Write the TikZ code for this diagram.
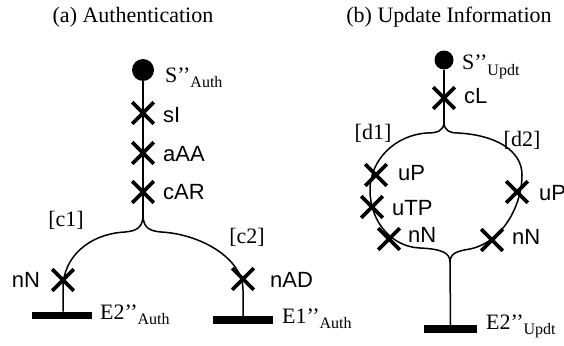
\documentclass[tikz,border=0pt]{standalone}
\usepackage{fontspec}
\setmainfont{Liberation Serif}
\setsansfont{Liberation Sans}
\usetikzlibrary{shapes.misc}
\newcommand{\subtxt}[1]{\raisebox{-5.5pt}{\fontsize{16}{16}\selectfont #1}}
\begin{document}
\begin{tikzpicture}[x=1pt,y=-1pt,
  flow/.style={line width=1.5pt},
  xmark/.style={draw, cross out, line width=3.6pt, minimum size=18pt, inner sep=0pt},
  startdot/.style={circle, fill=black, inner sep=0pt},
  endbar/.style={fill=black, inner sep=0pt, minimum height=7.5pt},
  act/.style={font=\sffamily\fontsize{22}{24}\selectfont, inner sep=0pt},
  lbl/.style={font=\rmfamily\fontsize{22}{24}\selectfont, inner sep=0pt},
  ttl/.style={font=\rmfamily\fontsize{22}{24}\selectfont, inner sep=0pt}]
\useasboundingbox (0,0) rectangle (564,345);

% ---------------- (a) Authentication ----------------
\node[ttl] (ta) at (133,17) {(a) Authentication};
\node[startdot, minimum size=22pt] (sa) at (143,70) {};
\coordinate (ja) at (143,215);
\node[endbar, minimum width=60pt] (e2a) at (62,315.5) {};
\node[endbar, minimum width=60pt] (e1a) at (243,320) {};
\draw[flow] (sa) -- (ja);
\draw[flow] (ja) .. controls (143,228) and (136,231) .. (125,232)
  .. controls (88,234) and (63,258) .. (63,288) -- (e2a.north -| 63,0);
\draw[flow] (ja) .. controls (143,228) and (150,231) .. (161,232)
  .. controls (200,234) and (243,258) .. (243,290) -- (e1a.north);
\node[xmark] (xsi) at (143,113) {};
\node[xmark] (xaaa) at (143,153) {};
\node[xmark] (xcar) at (143,192) {};
\node[xmark] (xnna) at (63,280) {};
\node[xmark] (xnad) at (243,279) {};
\node[lbl, anchor=base west] (lsa) at (165,82) {S’’\subtxt{Auth}};
\node[act, anchor=west] (lsi) at (163,115) {sI};
\node[act, anchor=west] (laaa) at (163,154) {aAA};
\node[act, anchor=west] (lcar) at (163,192) {cAR};
\node[lbl] (lc1) at (66,220) {[c1]};
\node[lbl] (lc2) at (247,237) {[c2]};
\node[act] (lnna) at (26,280) {nN};
\node[act, anchor=west] (lnad) at (270,280) {nAD};
\node[lbl, anchor=base west] (le2a) at (100,319) {E2’’\subtxt{Auth}};
\node[lbl, anchor=base west] (le1a) at (282,323) {E1’’\subtxt{Auth}};

% ---------------- (b) Update Information ----------------
\node[ttl] (tb) at (449,17) {(b) Update Information};
\node[startdot, minimum size=19pt] (su) at (444,60) {};
\coordinate (jt) at (444,122);
\coordinate (jb) at (450,262);
\node[endbar, minimum width=53pt] (e2u) at (450.5,329) {};
\draw[flow] (su) -- (jt);
\draw[flow] (jt) .. controls (444,131) and (437,133) .. (427,133)
  .. controls (395,135) and (370,160) .. (370,190)
  .. controls (370,222) and (392,247) .. (420,248)
  .. controls (440,249) and (450,252) .. (jb);
\draw[flow] (jt) .. controls (444,131) and (450,133) .. (458,133)
  .. controls (495,135) and (522,150) .. (522,175)
  .. controls (522,205) and (503,242) .. (470,249)
  .. controls (456,251) and (450,254) .. (jb);
\draw[flow] (jb) -- (e2u.north);
\node[xmark] (xcl) at (444,98) {};
\node[xmark] (xup1) at (376,175) {};
\node[xmark] (xutp) at (372,207) {};
\node[xmark] (xnn1) at (389,239) {};
\node[xmark] (xup2) at (517,192) {};
\node[xmark] (xnn2) at (492,240) {};
\node[lbl, anchor=base west] (lsu) at (462,70) {S’’\subtxt{Updt}};
\node[act, anchor=west] (lcl) at (464,96) {cL};
\node[lbl] (ld1) at (373,133) {[d1]};
\node[lbl] (ld2) at (522,140) {[d2]};
\node[act, anchor=west] (lup1) at (398,173) {uP};
\node[act, anchor=west] (lutp) at (392,208) {uTP};
\node[act, anchor=west] (lnn1) at (408,235) {nN};
\node[act, anchor=west] (lup2) at (539,193) {uP};
\node[act, anchor=west] (lnn2) at (512,237) {nN};
\node[lbl, anchor=base west] (le2u) at (486,329) {E2’’\subtxt{Updt}};
\end{tikzpicture}
\end{document}
